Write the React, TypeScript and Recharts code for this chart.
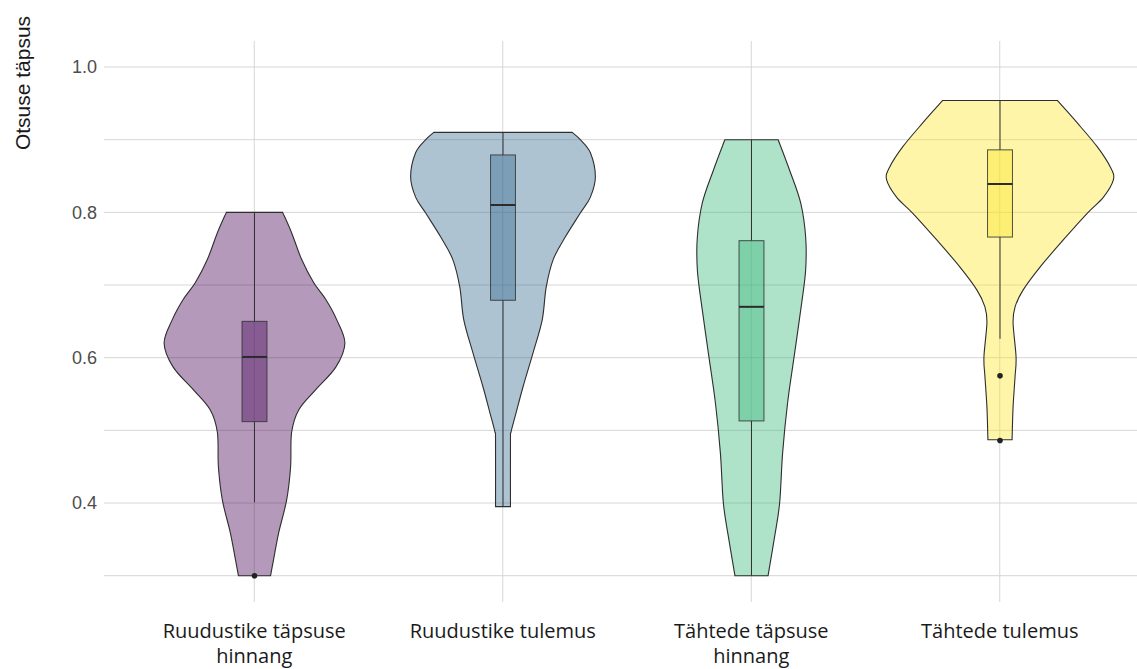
import React from 'react';
import { ComposedChart, Bar, XAxis, YAxis, CartesianGrid } from 'recharts';

// ---- data ----
const categories = [
  'Ruudustike täpsuse hinnang',
  'Ruudustike tulemus',
  'Tähtede täpsuse hinnang',
  'Tähtede tulemus',
];
const tickLines = [
  ['Ruudustike täpsuse', 'hinnang'],
  ['Ruudustike tulemus'],
  ['Tähtede täpsuse', 'hinnang'],
  ['Tähtede tulemus'],
];
const fillColors = ['#440154', '#31688E', '#35B779', '#FDE725'];

// violin density profiles: value (top -> bottom) and relative half width (1 = half a category band)
const violin1Values = [0.8, 0.772, 0.735, 0.703, 0.68, 0.652, 0.62, 0.587, 0.556, 0.528, 0.497, 0.45, 0.404, 0.359, 0.322, 0.3];
const violin1Widths = [0.226, 0.298, 0.379, 0.476, 0.573, 0.661, 0.726, 0.653, 0.492, 0.355, 0.298, 0.29, 0.258, 0.194, 0.153, 0.129];
const violin2Values = [0.91, 0.9, 0.882, 0.849, 0.821, 0.799, 0.766, 0.735, 0.697, 0.652, 0.607, 0.56, 0.524, 0.498, 0.487, 0.395];
const violin2Widths = [0.556, 0.621, 0.702, 0.742, 0.702, 0.621, 0.5, 0.403, 0.347, 0.315, 0.242, 0.161, 0.105, 0.065, 0.06, 0.06];
const violin3Values = [0.9, 0.858, 0.813, 0.766, 0.721, 0.675, 0.607, 0.538, 0.469, 0.4, 0.353, 0.3];
const violin3Widths = [0.214, 0.306, 0.395, 0.435, 0.435, 0.403, 0.347, 0.29, 0.25, 0.226, 0.185, 0.133];
const violin4Values = [0.954, 0.923, 0.89, 0.862, 0.845, 0.821, 0.799, 0.762, 0.725, 0.693, 0.67, 0.648, 0.601, 0.574, 0.532, 0.487];
const violin4Widths = [0.46, 0.621, 0.782, 0.887, 0.911, 0.831, 0.702, 0.508, 0.323, 0.185, 0.121, 0.105, 0.129, 0.121, 0.105, 0.097];

const violinValues = [violin1Values, violin2Values, violin3Values, violin4Values];
const violinWidths = [violin1Widths, violin2Widths, violin3Widths, violin4Widths];

// boxplot statistics
const boxQ1 = [0.512, 0.679, 0.513, 0.766];
const boxMedian = [0.601, 0.81, 0.67, 0.839];
const boxQ3 = [0.65, 0.879, 0.761, 0.886];
const whiskerLow = [0.401, 0.395, 0.3, 0.626];
const whiskerHigh = [0.8, 0.91, 0.9, 0.954];
const outliers = [[0.3], [], [], [0.575, 0.486]];

// y axis ticks
const yTicks = [0.3, 0.4, 0.5, 0.6, 0.7, 0.8, 0.9, 1.0];
const yLabeledTicks = [0.4, 0.6, 0.8, 1.0];

const chartData = categories.map((name, i) => ({
  name,
  idx: i,
  range: [violinValues[i][violinValues[i].length - 1], violinValues[i][0]],
}));

// ---- helpers ----
function catmull(points: number[][]): string {
  let d = '';
  for (let i = 0; i < points.length - 1; i++) {
    const p0 = points[i - 1] || points[i];
    const p1 = points[i];
    const p2 = points[i + 1];
    const p3 = points[i + 2] || p2;
    const c1x = p1[0] + (p2[0] - p0[0]) / 6;
    const c1y = p1[1] + (p2[1] - p0[1]) / 6;
    const c2x = p2[0] - (p3[0] - p1[0]) / 6;
    const c2y = p2[1] - (p3[1] - p1[1]) / 6;
    d += ` C${c1x},${c1y} ${c2x},${c2y} ${p2[0]},${p2[1]}`;
  }
  return d;
}

const ViolinShape = (props: any) => {
  const { x, y, width, height } = props;
  const i = props.payload && props.payload.idx != null ? props.payload.idx : props.index;
  const vals = violinValues[i];
  const ws = violinWidths[i];
  const top = Math.min(y, y + height);
  const bottom = Math.max(y, y + height);
  const vmax = vals[0];
  const vmin = vals[vals.length - 1];
  const py = (v: number) => top + ((vmax - v) / (vmax - vmin)) * (bottom - top);
  const cx = x + width / 2;
  const hw = width / 2;
  const right = vals.map((v, k) => [cx + ws[k] * hw, py(v)]);
  const left = vals.map((v, k) => [cx - ws[k] * hw, py(v)]).reverse();
  const d =
    `M${left[left.length - 1][0]},${left[left.length - 1][1]} L${right[0][0]},${right[0][1]}` +
    catmull(right) +
    ` L${left[0][0]},${left[0][1]}` +
    catmull(left) +
    ' Z';
  const bw = width * 0.05;
  const color = fillColors[i];
  return (
    <g>
      <path d={d} fill={color} fillOpacity={0.4} stroke="#2e2e2e" strokeWidth={1.1} />
      <line x1={cx} x2={cx} y1={py(whiskerHigh[i])} y2={py(boxQ3[i])} stroke="#333333" strokeWidth={1} />
      <line x1={cx} x2={cx} y1={py(boxQ1[i])} y2={py(whiskerLow[i])} stroke="#333333" strokeWidth={1} />
      <rect
        x={cx - bw}
        y={py(boxQ3[i])}
        width={bw * 2}
        height={py(boxQ1[i]) - py(boxQ3[i])}
        fill={color}
        fillOpacity={0.4}
        stroke="#333333"
        strokeOpacity={0.85}
        strokeWidth={1}
      />
      <line x1={cx - bw} x2={cx + bw} y1={py(boxMedian[i])} y2={py(boxMedian[i])} stroke="#2b2b2b" strokeWidth={2} />
      {outliers[i].map((o, k) => (
        <circle key={k} cx={cx} cy={py(o)} r={2.8} fill="#222222" />
      ))}
    </g>
  );
};

const XTick = (props: any) => {
  const { x, y, payload } = props;
  const idx = categories.indexOf(payload.value);
  const lines = tickLines[idx] || [payload.value];
  return (
    <text x={x} y={y} textAnchor="middle" fontFamily="'Open Sans', sans-serif" fontSize={20} fill="#1a1a1a">
      {lines.map((l, k) => (
        <tspan key={k} x={x} dy={k === 0 ? 28 : 25}>
          {l}
        </tspan>
      ))}
    </text>
  );
};

const YTitle = () => (
  <text
    x={22}
    y={83}
    transform="rotate(-90 22 83)"
    textAnchor="middle"
    dominantBaseline="central"
    fontFamily="'Liberation Sans', Arial, sans-serif"
    fontSize={21}
    fill="#1a1a1a"
  >
    Otsuse täpsus
  </text>
);

export default function App() {
  return (
    <div style={{ position: 'absolute', left: 0, top: 0, width: 1137, height: 669, background: '#ffffff', overflow: 'hidden' }}>
      <ComposedChart
        width={1137}
        height={669}
        data={chartData}
        margin={{ top: 41, right: 0, bottom: 0, left: 0 }}
        barCategoryGap="0%"
      >
        <CartesianGrid stroke="#d6d6d6" strokeWidth={1} syncWithTicks />
        <XAxis
          dataKey="name"
          type="category"
          height={67}
          padding={{ left: 26, right: 13 }}
          axisLine={false}
          tickLine={false}
          tick={<XTick />}
          interval={0}
        />
        <YAxis
          type="number"
          width={104}
          domain={[0.2638, 1.0358]}
          allowDataOverflow
          ticks={yTicks}
          interval={0}
          axisLine={false}
          tickLine={false}
          tickMargin={1}
          tick={{ fontFamily: "'Liberation Sans', Arial, sans-serif", fontSize: 18, fill: '#4d4d4d' }}
          tickFormatter={(v: number) => (yLabeledTicks.some((t) => Math.abs(t - v) < 1e-6) ? v.toFixed(1) : '')}
          label={<YTitle />}
        />
        <Bar dataKey="range" isAnimationActive={false} shape={<ViolinShape />} />
      </ComposedChart>
    </div>
  );
}
